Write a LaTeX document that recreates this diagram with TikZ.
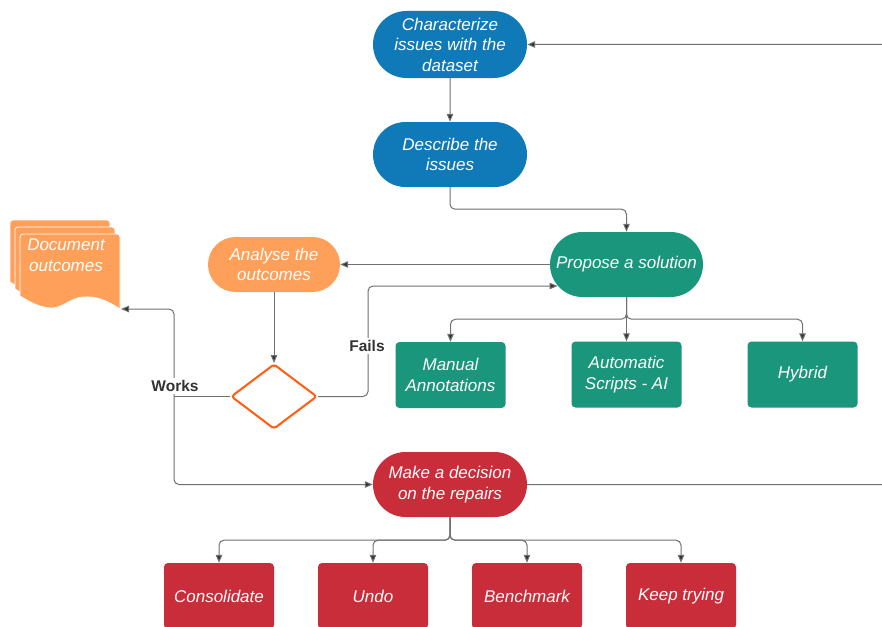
\documentclass[tikz,border=0pt]{standalone}
\usepackage{fontspec}
\setmainfont{Liberation Sans}
\usetikzlibrary{shapes.misc,shapes.geometric,arrows.meta,calc}
\definecolor{cblue}{RGB}{16,122,185}
\definecolor{cgreen}{RGB}{26,150,124}
\definecolor{corange}{RGB}{255,160,90}
\definecolor{cred}{RGB}{201,45,57}
\definecolor{cdia}{RGB}{255,92,16}
\definecolor{cline}{RGB}{112,112,112}
\definecolor{clabel}{RGB}{51,51,51}
\tikzset{
  stad/.style={rounded rectangle, inner sep=0pt, text=white, align=center,
    font=\fontsize{17}{20.5}\selectfont\itshape},
  boxn/.style={rectangle, rounded corners=4pt, inner sep=0pt, text=white, align=center,
    minimum width=110pt, minimum height=66pt, font=\fontsize{17}{20.5}\selectfont\itshape},
  conn/.style={draw=cline, line width=1pt, rounded corners=5pt,
    -{Triangle[length=8pt,width=6.5pt,fill=clabel]}},
  plainconn/.style={draw=cline, line width=1pt},
  lbl/.style={fill=white, text=clabel, inner sep=2pt, font=\fontsize{15.5}{18}\selectfont\bfseries},
  docpage/.style={fill=corange, draw=white, line width=0.8pt},
}
\begin{document}
\begin{tikzpicture}[x=1pt,y=-1pt]
\path[use as bounding box] (0,0) rectangle (882,626);
\clip (0,0) rectangle (882,626);
\fill[white] (0,0) rectangle (882,626);

% document stack
\foreach \dx/\dy in {-10/-14,-5/-7,0/0}{
  \begin{scope}[shift={(\dx,\dy)}]
  \path[docpage] (20,296) -- (20,238) [rounded corners=3pt] -- (20,234) -- (120,234) [sharp corners] -- (120,309)
    .. controls (106,300) and (96,296) .. (83,297)
    .. controls (70,298) and (62,309) .. (50,308)
    .. controls (38,307) and (28,301) .. (20,296) -- cycle;
  \end{scope}
}
\node[text=white, align=center, inner sep=0pt, font=\fontsize{17}{20.5}\selectfont\itshape] (doc) at (66,255) {Document\\outcomes};
\coordinate (docin) at (121,309);

% nodes
\node[stad, fill=cblue, minimum width=154pt, minimum height=67pt] (char) at (450,44.5) {Characterize\\issues with the\\dataset};
\node[stad, fill=cblue, minimum width=154pt, minimum height=65pt] (desc) at (450,154.5) {Describe the\\issues};
\node[stad, fill=cgreen, minimum width=153pt, minimum height=65pt] (prop) at (626.5,264.5) {Propose a solution};
\node[stad, fill=corange, minimum width=132pt, minimum height=55pt] (anal) at (274,264.5) {Analyse the\\outcomes};
\node[diamond, draw=cdia, fill=white, line width=2pt, rounded corners=3pt, inner sep=0pt,
  minimum width=86pt, minimum height=65pt] (dia) at (274,396.5) {};
\node[boxn, fill=cgreen] (man) at (450.5,375) {Manual\\Annotations};
\node[boxn, fill=cgreen] (auto) at (626.5,374.5) {Automatic\\Scripts - AI};
\node[boxn, fill=cgreen] (hyb) at (802.5,374.5) {Hybrid};
\node[stad, fill=cred, minimum width=154pt, minimum height=65pt] (dec) at (450,484.5) {Make a decision\\on the repairs};
\node[boxn, fill=cred] (cons) at (219,596) {Consolidate};
\node[boxn, fill=cred] (undo) at (373,596) {Undo};
\node[boxn, fill=cred] (bench) at (527,596) {Benchmark};
\node[boxn, fill=cred] (keep) at (681,596) {Keep trying};
\coordinate (wj) at ($(dia.west)+(-56,0)$);

% connectors
\draw[conn] (char) -- (desc);
\draw[conn] (desc.south) -- ++(0,22) -| (prop.north);
\draw[conn] (prop.west) -- (anal.east);
\draw[conn] (anal.south) -- (dia.north);
\draw[conn] (dia.east) -- ++(50,0) |- ($(prop.center)+(-69,21.5)$);
\draw[plainconn] (dia.west) -- (wj);
\draw[conn] (wj) |- (docin);
\draw[conn] (wj) |- (dec.west);
\draw[conn] (prop.south) -- ++(0,22) -| (man.north);
\draw[conn] (prop.south) -- (auto.north);
\draw[conn] (prop.south) -- ++(0,22) -| (hyb.north);
\draw[conn] (dec.south) -- ++(0,23) -| (cons.north);
\draw[conn] (dec.south) -- ++(0,23) -| (undo.north);
\draw[conn] (dec.south) -- ++(0,23) -| (bench.north);
\draw[conn] (dec.south) -- ++(0,23) -| (keep.north);
\draw[conn] (dec.east) -- (905,484.5) |- (char.east);

% labels
\node[lbl] (fails) at (367,346) {Fails};
\node[lbl] (works) at (175,386) {Works};
\end{tikzpicture}
\end{document}
